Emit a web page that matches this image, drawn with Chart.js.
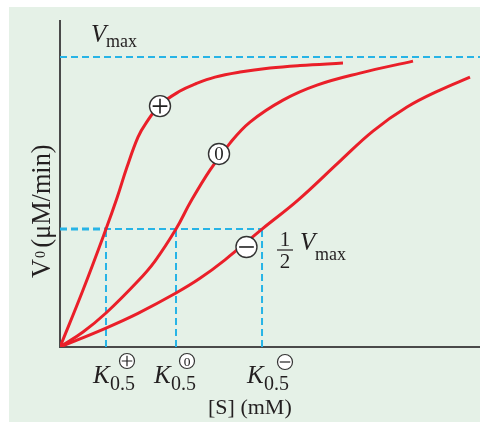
<!DOCTYPE html>
<html>
<head>
<meta charset="utf-8">
<script src="https://cdn.jsdelivr.net/npm/chart.js@4"></script>
<style>
  html, body { margin: 0; padding: 0; background: #fff; overflow: hidden; }
  #chart { display: block; }
</style>
</head>
<body>
<canvas id="chart" width="480" height="423"></canvas>
<script>
// [S] in arbitrary units (0..10 across the plot), V0 with Vmax = 10
const plusS  = [0, 0.548, 1.095, 1.357, 1.595, 1.857, 2.048, 2.381, 2.857, 3.214, 3.69, 4.286, 5.0, 5.714, 6.738];
const plusV  = [0, 1.966, 4.069, 5.138, 6.207, 7.241, 7.724, 8.345, 8.828, 9.069, 9.31, 9.483, 9.621, 9.707, 9.793];
const zeroS  = [0, 0.548, 1.095, 1.857, 2.262, 2.762, 3.107, 3.571, 4.048, 4.524, 5.31, 6.119, 7.143, 8.405];
const zeroV  = [0, 0.517, 1.172, 2.276, 2.966, 4.069, 5.0, 6.103, 7.034, 7.759, 8.517, 9.034, 9.448, 9.862];
const minusS = [0, 1.095, 1.857, 2.762, 3.333, 3.929, 4.81, 5.667, 6.667, 7.452, 8.262, 9.048, 9.762];
const minusV = [0, 0.655, 1.162, 1.862, 2.369, 3.007, 4.069, 5.069, 6.414, 7.448, 8.276, 8.862, 9.31];

const vmax = 10;
const halfV = 4.069;
const kValues = [1.095, 2.762, 4.81];
const markerS = [2.381, 3.786, 4.44];
const markerV = [8.31, 6.66, 3.45];
const markerSymbols = ['+', '0', '-'];

const RED = '#ea1f29';
const BLUE = '#27b4e6';
const INK = '#231f20';

function pts(xs, ys) {
    return xs.map((x, i) => ({ x: x, y: ys[i] }));
}

function curve(xs, ys) {
    return {
        data: pts(xs, ys),
        showLine: true,
        borderColor: RED,
        borderWidth: 3,
        pointRadius: 0,
        tension: 0.4,
        order: 1
    };
}

function dashed(data, width) {
    return {
        data: data,
        showLine: true,
        borderColor: BLUE,
        borderWidth: width || 2,
        borderDash: [7, 4],
        pointRadius: 0,
        order: 2
    };
}

const datasets = [
    curve(plusS, plusV),
    curve(zeroS, zeroV),
    curve(minusS, minusV),
    dashed([{ x: 0, y: vmax }, { x: 10, y: vmax }]),
    dashed([{ x: 0, y: halfV }, { x: kValues[2], y: halfV }]),
    dashed([{ x: 0, y: halfV }, { x: kValues[0], y: halfV }], 3)
];
kValues.forEach(k => {
    datasets.push(dashed([{ x: k, y: 0 }, { x: k, y: halfV }]));
});
datasets.push({
    data: pts(markerS, markerV),
    pointRadius: 10.5,
    pointBackgroundColor: '#fff',
    pointBorderColor: '#333',
    pointBorderWidth: 1.4,
    order: 0
});
const markerIndex = datasets.length - 1;

function drawSymbol(ctx, x, y, r, sym) {
    ctx.save();
    ctx.strokeStyle = '#222';
    ctx.fillStyle = '#222';
    ctx.lineWidth = r > 9 ? 1.6 : 1.2;
    if (sym === '+' || sym === '-') {
        ctx.beginPath();
        ctx.moveTo(x - r * 0.7, y);
        ctx.lineTo(x + r * 0.7, y);
        if (sym === '+') {
            ctx.moveTo(x, y - r * 0.7);
            ctx.lineTo(x, y + r * 0.7);
        }
        ctx.stroke();
    } else {
        ctx.font = (r * 1.8) + 'px "Liberation Serif"';
        ctx.textAlign = 'center';
        ctx.textBaseline = 'middle';
        ctx.fillText(sym, x, y + 1);
    }
    ctx.restore();
}

function circled(ctx, x, y, r, sym) {
    ctx.save();
    ctx.beginPath();
    ctx.arc(x, y, r, 0, Math.PI * 2);
    ctx.fillStyle = '#fff';
    ctx.fill();
    ctx.strokeStyle = '#333';
    ctx.lineWidth = 1.2;
    ctx.stroke();
    ctx.restore();
    drawSymbol(ctx, x, y, r, sym);
}

const decorPlugin = {
    id: 'decor',
    beforeDraw(chart) {
        const ctx = chart.ctx;
        ctx.save();
        ctx.fillStyle = '#fff';
        ctx.fillRect(0, 0, chart.width, chart.height);
        ctx.fillStyle = '#e5f1e7';
        ctx.fillRect(9, 7, chart.width - 9, chart.height - 8);
        ctx.restore();
    },
    beforeDatasetsDraw(chart) {
        const ctx = chart.ctx;
        const a = chart.chartArea;
        ctx.save();
        ctx.strokeStyle = '#4a4a4a';
        ctx.lineWidth = 2;
        ctx.beginPath();
        ctx.moveTo(a.left, a.top);
        ctx.lineTo(a.left, a.bottom);
        ctx.lineTo(a.right, a.bottom);
        ctx.stroke();
        ctx.restore();
    },
    afterDraw(chart) {
        const ctx = chart.ctx;
        const meta = chart.getDatasetMeta(markerIndex);
        meta.data.forEach((pt, i) => drawSymbol(ctx, pt.x, pt.y, 10.5, markerSymbols[i]));

        ctx.save();
        ctx.fillStyle = INK;
        ctx.textBaseline = 'alphabetic';

        // Vmax label
        ctx.font = 'italic 25px "Liberation Serif"';
        ctx.fillText('V', 91, 42);
        ctx.font = '18px "Liberation Serif"';
        ctx.fillText('max', 106, 47);

        // 1/2 Vmax label
        ctx.textAlign = 'center';
        ctx.font = '21px "Liberation Serif"';
        ctx.fillText('1', 285, 246);
        ctx.fillText('2', 285, 268);
        ctx.strokeStyle = INK;
        ctx.lineWidth = 1.2;
        ctx.beginPath();
        ctx.moveTo(277, 250);
        ctx.lineTo(293, 250);
        ctx.stroke();
        ctx.textAlign = 'left';
        ctx.font = 'italic 25px "Liberation Serif"';
        ctx.fillText('V', 300, 250);
        ctx.font = '18px "Liberation Serif"';
        ctx.fillText('max', 315, 260);

        // K0.5 labels
        const kLabels = [
            { kx: 93, sx: 110, cx: 127, cy: 361, sym: '+' },
            { kx: 154, sx: 171, cx: 187, cy: 361, sym: '0' },
            { kx: 247, sx: 264, cx: 285, cy: 362, sym: '-' }
        ];
        kLabels.forEach(l => {
            ctx.font = 'italic 25px "Liberation Serif"';
            ctx.fillText('K', l.kx, 383);
            ctx.font = '20px "Liberation Serif"';
            ctx.fillText('0.5', l.sx, 390);
            circled(ctx, l.cx, l.cy, 7.5, l.sym);
        });

        // x axis title
        ctx.font = '22px "Liberation Serif"';
        ctx.fillText('[S] (mM)', 208, 414);

        // y axis title
        ctx.translate(50, 278);
        ctx.rotate(-Math.PI / 2);
        ctx.scale(0.94, 1);
        ctx.font = '28px "Liberation Serif"';
        ctx.fillText('V', 0, 0);
        const vw = ctx.measureText('V').width;
        ctx.font = '15px "Liberation Serif"';
        ctx.fillText('0', vw + 1, -5);
        ctx.font = '28px "Liberation Serif"';
        ctx.fillText('(\u03bcM/min)', vw + 12, 0);
        ctx.restore();
    }
};

new Chart(document.getElementById('chart'), {
    type: 'scatter',
    data: { datasets: datasets },
    options: {
        responsive: false,
        animation: false,
        layout: {
            autoPadding: false,
            padding: { left: 60, top: 20, right: 0, bottom: 76 }
        },
        scales: {
            x: { type: 'linear', min: 0, max: 10, display: false },
            y: { type: 'linear', min: 0, max: 11.28, display: false }
        },
        plugins: {
            legend: { display: false },
            tooltip: { enabled: false }
        }
    },
    plugins: [decorPlugin]
});
</script>
</body>
</html>
